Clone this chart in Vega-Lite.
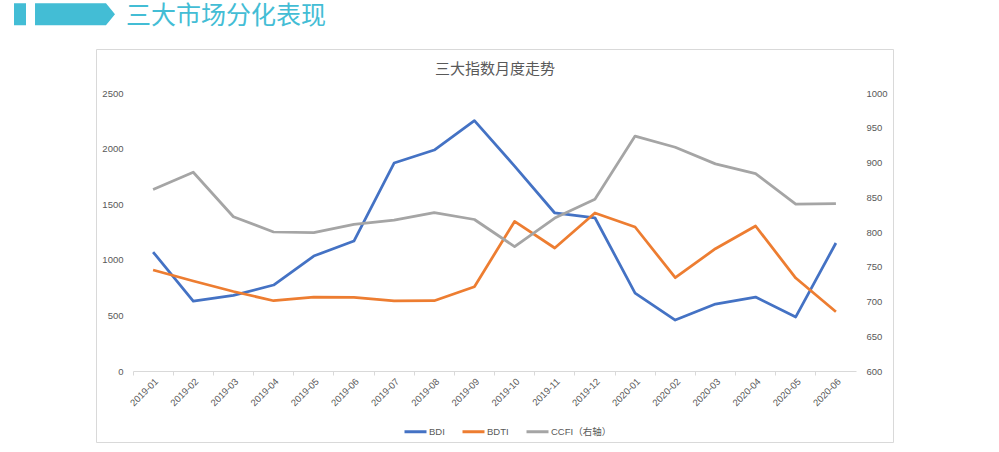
{
  "$schema": "https://vega.github.io/schema/vega-lite/v6.json",
  "width": 797,
  "height": 393,
  "autosize": {"type": "none"},
  "padding": {"left": 96, "top": 49, "right": 106, "bottom": 10},
  "background": "white",
  "title": {
    "text": "三大市场分化表现",
    "anchor": "start",
    "frame": "group",
    "dx": 30,
    "dy": 50,
    "offset": 24,
    "fontSize": 25,
    "fontWeight": "normal",
    "color": "#43BDD5",
    "font": "Noto Sans CJK SC"
  },
  "config": {
    "view": {"stroke": "#D9D9D9", "strokeWidth": 1},
    "axis": {
      "labelFont": "Liberation Sans",
      "labelFontSize": 9.5,
      "labelColor": "#595959",
      "grid": false,
      "titleFont": "Noto Sans CJK SC"
    }
  },
  "data": {
    "values": [
      {"month": "2019-01", "series": "BDI", "value": 1070},
      {"month": "2019-02", "series": "BDI", "value": 629},
      {"month": "2019-03", "series": "BDI", "value": 680},
      {"month": "2019-04", "series": "BDI", "value": 773},
      {"month": "2019-05", "series": "BDI", "value": 1034},
      {"month": "2019-06", "series": "BDI", "value": 1169},
      {"month": "2019-07", "series": "BDI", "value": 1870},
      {"month": "2019-08", "series": "BDI", "value": 1987},
      {"month": "2019-09", "series": "BDI", "value": 2251},
      {"month": "2019-10", "series": "BDI", "value": 1843},
      {"month": "2019-11", "series": "BDI", "value": 1421},
      {"month": "2019-12", "series": "BDI", "value": 1378},
      {"month": "2020-01", "series": "BDI", "value": 701},
      {"month": "2020-02", "series": "BDI", "value": 458},
      {"month": "2020-03", "series": "BDI", "value": 602},
      {"month": "2020-04", "series": "BDI", "value": 665},
      {"month": "2020-05", "series": "BDI", "value": 486},
      {"month": "2020-06", "series": "BDI", "value": 1151},
      {"month": "2019-01", "series": "BDTI", "value": 908},
      {"month": "2019-02", "series": "BDTI", "value": 809},
      {"month": "2019-03", "series": "BDTI", "value": 715},
      {"month": "2019-04", "series": "BDTI", "value": 632},
      {"month": "2019-05", "series": "BDTI", "value": 665},
      {"month": "2019-06", "series": "BDTI", "value": 663},
      {"month": "2019-07", "series": "BDTI", "value": 630},
      {"month": "2019-08", "series": "BDTI", "value": 632},
      {"month": "2019-09", "series": "BDTI", "value": 758},
      {"month": "2019-10", "series": "BDTI", "value": 1345},
      {"month": "2019-11", "series": "BDTI", "value": 1106},
      {"month": "2019-12", "series": "BDTI", "value": 1421},
      {"month": "2020-01", "series": "BDTI", "value": 1295},
      {"month": "2020-02", "series": "BDTI", "value": 839},
      {"month": "2020-03", "series": "BDTI", "value": 1100},
      {"month": "2020-04", "series": "BDTI", "value": 1304},
      {"month": "2020-05", "series": "BDTI", "value": 836},
      {"month": "2020-06", "series": "BDTI", "value": 533},
      {"month": "2019-01", "series": "CCFI（右轴）", "value": 861},
      {"month": "2019-02", "series": "CCFI（右轴）", "value": 886},
      {"month": "2019-03", "series": "CCFI（右轴）", "value": 822},
      {"month": "2019-04", "series": "CCFI（右轴）", "value": 800},
      {"month": "2019-05", "series": "CCFI（右轴）", "value": 799},
      {"month": "2019-06", "series": "CCFI（右轴）", "value": 811},
      {"month": "2019-07", "series": "CCFI（右轴）", "value": 817},
      {"month": "2019-08", "series": "CCFI（右轴）", "value": 828},
      {"month": "2019-09", "series": "CCFI（右轴）", "value": 818},
      {"month": "2019-10", "series": "CCFI（右轴）", "value": 779},
      {"month": "2019-11", "series": "CCFI（右轴）", "value": 820},
      {"month": "2019-12", "series": "CCFI（右轴）", "value": 847},
      {"month": "2020-01", "series": "CCFI（右轴）", "value": 938},
      {"month": "2020-02", "series": "CCFI（右轴）", "value": 922},
      {"month": "2020-03", "series": "CCFI（右轴）", "value": 898},
      {"month": "2020-04", "series": "CCFI（右轴）", "value": 884},
      {"month": "2020-05", "series": "CCFI（右轴）", "value": 840},
      {"month": "2020-06", "series": "CCFI（右轴）", "value": 841}
    ]
  },
  "layer": [
    {
      "transform": [{"filter": "datum.series !== 'CCFI（右轴）'"}],
      "mark": {"type": "line", "strokeWidth": 2.75, "strokeJoin": "round"},
      "encoding": {
        "x": {
          "field": "month", "type": "ordinal", "sort": null,
          "scale": {"type": "band", "domain": ["2019-01","2019-02","2019-03","2019-04","2019-05","2019-06","2019-07","2019-08","2019-09","2019-10","2019-11","2019-12","2020-01","2020-02","2020-03","2020-04","2020-05","2020-06"], "range": [37, 760], "paddingInner": 0, "paddingOuter": 0},
          "bandPosition": 0.5,
          "axis": {"orient": "bottom", "offset": -71, "bandPosition": 0, "labels": false, "ticks": true, "tickSize": 4, "tickColor": "#D9D9D9", "domain": true, "domainColor": "#D9D9D9", "title": null}
        },
        "y": {
          "field": "value", "type": "quantitative",
          "scale": {"domain": [0, 2500], "range": [322, 44], "nice": false, "zero": false},
          "axis": {"orient": "left", "offset": -30, "values": [0, 500, 1000, 1500, 2000, 2500], "format": "d", "domain": false, "ticks": false, "labelPadding": 3, "labelColor": "#595959", "title": null}
        },
        "color": {
          "field": "series", "type": "nominal",
          "scale": {"domain": ["BDI", "BDTI", "CCFI（右轴）"], "range": ["#4472C4", "#ED7D31", "#A5A5A5"]},
          "legend": {"orient": "none", "legendX": 307, "legendY": 370, "direction": "horizontal", "title": null, "symbolType": "stroke", "symbolSize": 484, "symbolStrokeWidth": 3, "labelFontSize": 9.5, "labelColor": "#595959", "labelFont": "Liberation Sans, Noto Sans CJK SC", "labelOffset": 1, "columnPadding": 11, "padding": 0}
        }
      }
    },
    {
      "transform": [{"filter": "datum.series === 'CCFI（右轴）'"}],
      "mark": {"type": "line", "strokeWidth": 2.75, "strokeJoin": "round"},
      "encoding": {
        "x": {
          "field": "month", "type": "ordinal", "sort": null,
          "scale": {"type": "band", "domain": ["2019-01","2019-02","2019-03","2019-04","2019-05","2019-06","2019-07","2019-08","2019-09","2019-10","2019-11","2019-12","2020-01","2020-02","2020-03","2020-04","2020-05","2020-06"], "range": [37, 760], "paddingInner": 0, "paddingOuter": 0},
          "bandPosition": 0.5,
          "axis": {"orient": "bottom", "offset": -71, "labels": true, "ticks": false, "domain": false, "labelAngle": -45, "labelPadding": 5, "labelColor": "#595959", "title": null}
        },
        "y": {
          "field": "value", "type": "quantitative",
          "scale": {"domain": [600, 1000], "range": [322, 44], "nice": false, "zero": false},
          "axis": {"orient": "right", "offset": -33, "values": [600, 650, 700, 750, 800, 850, 900, 950, 1000], "format": "d", "domain": false, "ticks": false, "labelPadding": 6, "labelColor": "#595959", "title": null}
        },
        "color": {
          "field": "series", "type": "nominal",
          "scale": {"domain": ["BDI", "BDTI", "CCFI（右轴）"], "range": ["#4472C4", "#ED7D31", "#A5A5A5"]},
          "legend": {"orient": "none", "legendX": 307, "legendY": 370, "direction": "horizontal", "title": null, "symbolType": "stroke", "symbolSize": 484, "symbolStrokeWidth": 3, "labelFontSize": 9.5, "labelColor": "#595959", "labelFont": "Liberation Sans, Noto Sans CJK SC", "labelOffset": 1, "columnPadding": 11, "padding": 0}
        }
      }
    },
    {
      "transform": [{"filter": "datum.series === 'BDI' && datum.month === '2019-01'"}],
      "mark": {"type": "point", "filled": true, "opacity": 0, "color": "#43BDD5"},
      "encoding": {
        "x": {
          "field": "month", "type": "ordinal", "sort": null,
          "scale": {"type": "band", "domain": ["2019-01","2019-02","2019-03","2019-04","2019-05","2019-06","2019-07","2019-08","2019-09","2019-10","2019-11","2019-12","2020-01","2020-02","2020-03","2020-04","2020-05","2020-06"], "range": [37, 760], "paddingInner": 0, "paddingOuter": 0},
          "bandPosition": 0.5,
          "axis": {"orient": "top", "title": "三大指数月度走势", "labels": false, "ticks": false, "domain": false, "titleY": 19, "titleBaseline": "middle", "titleFontSize": 15, "titleColor": "#595959", "titleFontWeight": "normal", "titleFont": "Noto Sans CJK SC"}
        },
        "shape": {
          "datum": "header",
          "scale": {"domain": ["header"], "range": ["M-4.59,-1H-3.5V1H-4.59Z M-2.68,-1H3.77L4.59,0L3.77,1H-2.68Z"]},
          "legend": {"orient": "none", "legendX": -42.5, "legendY": -45.7, "title": null, "labelExpr": "''", "symbolSize": 484, "padding": 0, "symbolOpacity": 1, "symbolFillColor": "#43BDD5", "symbolStrokeColor": "#43BDD5", "symbolStrokeWidth": 0,
            "encode": {"symbols": {"update": {"fill": {"value": "#43BDD5"}, "opacity": {"value": 1}, "fillOpacity": {"value": 1}, "strokeWidth": {"value": 0}}}}}
        }
      }
    }
  ],
  "resolve": {"scale": {"y": "independent"}, "axis": {"x": "independent"}}
}
